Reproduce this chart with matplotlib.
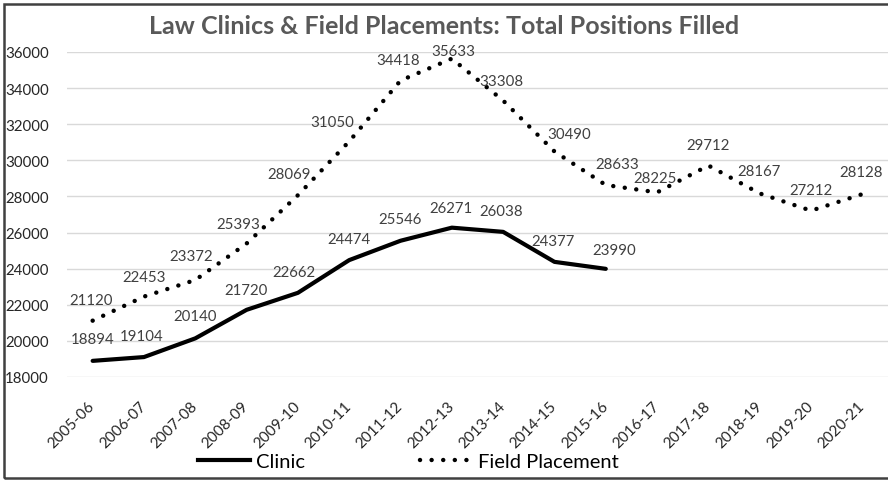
import numpy as np
import matplotlib
matplotlib.use("Agg")
import matplotlib.pyplot as plt
from matplotlib.patches import Rectangle
from matplotlib.lines import Line2D

# Data
years = ["2005-06", "2006-07", "2007-08", "2008-09", "2009-10", "2010-11", "2011-12", "2012-13",
         "2013-14", "2014-15", "2015-16", "2016-17", "2017-18", "2018-19", "2019-20", "2020-21"]
clinic = [18894, 19104, 20140, 21720, 22662, 24474, 25546, 26271, 26038, 24377, 23990]
field = [21120, 22453, 23372, 25393, 28069, 31050, 34418, 35633, 33308, 30490, 28633,
         28225, 29712, 28167, 27212, 28128]

# label nudges in pixels (dx, dy above the point)
clinic_nudge = [(0, 22), (-2, 21), (0, 22), (-1, 20), (-4, 21), (0, 21), (-1, 22), (-1, 20),
                (-2, 21), (-1, 21), (8, 19)]
field_nudge = [(-2, 21), (0, 20), (-4, 24), (-8, 20), (-9, 21), (-17, 19), (-2, 21), (1, 8),
               (-2, 20), (15, 17), (11, 21), (-2, 14), (0, 21), (-1, 22), (0, 21), (-1, 22)]

plt.rcParams['font.family'] = ['Lato', 'DejaVu Sans']

fig = plt.figure(figsize=(8.88, 4.81), dpi=100)
ax = fig.add_axes([67 / 888, 1 - 378 / 481, 1 - 67 / 888, (378 - 53) / 481])

x = np.arange(len(years))
dot_style = (0, (0.01, 2.6))

ax.plot(x[:len(clinic)], clinic, color='black', lw=3.0, solid_joinstyle='round',
        solid_capstyle='round', label="Clinic")
ax.plot(x, field, color='black', lw=3.2, linestyle=dot_style, dash_capstyle='round',
        label="Field Placement")

for i, v in enumerate(clinic):
    dx, dy = clinic_nudge[i]
    ax.annotate(str(v), (x[i], v), xytext=(dx * 0.72, dy * 0.72), textcoords='offset points',
                ha='center', va='center', fontsize=10.8, color='#404040')
for i, v in enumerate(field):
    dx, dy = field_nudge[i]
    ax.annotate(str(v), (x[i], v), xytext=(dx * 0.72, dy * 0.72), textcoords='offset points',
                ha='center', va='center', fontsize=10.8, color='#404040')

ax.set_xlim(-0.5, len(years) - 0.5)
ax.set_ylim(18000, 36000)
ax.set_yticks(np.arange(18000, 36001, 2000))
ax.set_xticks(x)
ax.set_xticklabels(years, rotation=45, ha='right', va='center', rotation_mode='anchor')
ax.tick_params(axis='x', length=0, pad=19, labelsize=11, labelcolor='#262626')
ax.tick_params(axis='y', length=0, pad=13, labelsize=10.8, labelcolor='#262626')
ax.grid(axis='y', color='#d9d9d9', lw=1)
ax.set_axisbelow(True)
for s in ax.spines.values():
    s.set_visible(False)
ax.patch.set_alpha(0)

fig.text(444 / 888, 1 - 34 / 481, "Law Clinics & Field Placements: Total Positions Filled",
         ha='center', va='baseline', fontsize=18, fontweight='bold', color='#595959')

handles = [Line2D([], [], color='black', lw=3.0),
           Line2D([], [], color='black', lw=3.2, linestyle=dot_style, dash_capstyle='round')]
fig.legend(handles, ["Clinic", "Field Placement"], loc='center left',
           bbox_to_anchor=(198 / 888, 1 - 462 / 481), ncol=2, frameon=False, fontsize=14.5,
           handlelength=2.59, handletextpad=0.3, columnspacing=5.7, borderpad=0, borderaxespad=0)

# outer chart border
fig.add_artist(Rectangle((4 / 888, 2 / 481), 1.0, 1 - 6.5 / 481, transform=fig.transFigure,
                         fill=False, edgecolor='#404040', lw=1.8))

fig.savefig("out.png", dpi=100)
